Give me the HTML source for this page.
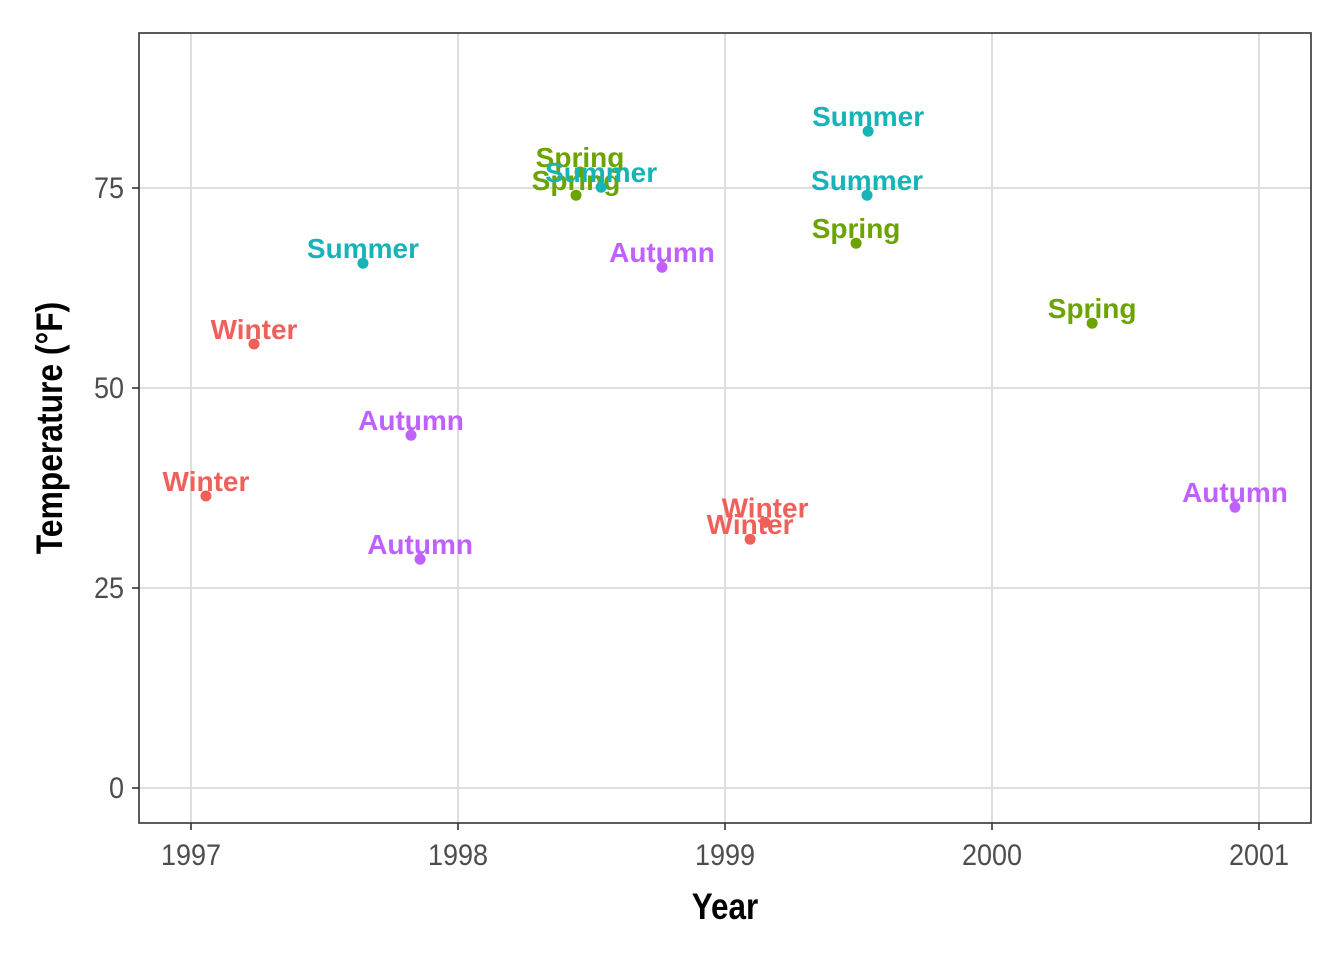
<!DOCTYPE html>
<html><head><meta charset="utf-8"><style>
body{margin:0;background:#fff;}
svg text{font-family:"Liberation Sans",sans-serif;}
</style></head><body>
<svg width="1344" height="960" viewBox="0 0 1344 960">
<rect x="0" y="0" width="1344" height="960" fill="#fff"/>
<g id="grid"></g>
<g id="ticks"></g>
<g id="marks"></g>
<rect x="139" y="33" width="1172" height="790" fill="none" stroke="#333" stroke-width="1.6"/>
<text x="725" y="919" text-anchor="middle" font-size="37" font-weight="bold" transform="translate(725 0) scale(0.85 1) translate(-725 0)">Year</text>
<text transform="translate(62 428) rotate(-90) scale(0.86 1)" text-anchor="middle" font-size="37" font-weight="bold">Temperature (°F)</text>
</svg>
<script>
const years=[1997.056,1997.236,1997.644,1997.824,1997.858,1998.442,1998.457,1998.536,1998.764,1999.094,1999.150,1999.491,1999.532,1999.536,2000.375,2000.910];
const temps=[36.5,55.5,65.6,44.1,28.6,74.1,77,75.1,65.1,31.1,33.2,68.1,74.1,82.1,58.1,35.1];
const seasons=["Winter","Winter","Summer","Autumn","Autumn","Spring","Spring","Summer","Autumn","Winter","Winter","Spring","Summer","Summer","Spring","Autumn"];
const xTicks=[1997,1998,1999,2000,2001];
const yTicks=[0,25,50,75];
const colors={Winter:"#F0605A",Spring:"#6BA300",Summer:"#16B3B7",Autumn:"#BF60FF"};
const NS="http://www.w3.org/2000/svg";
const X=v=>191+(v-1997)*267;
const Y=v=>788-v*8;
function mk(tag,attrs,parent){const e=document.createElementNS(NS,tag);for(const k in attrs)e.setAttribute(k,attrs[k]);parent.appendChild(e);return e;}
const grid=document.getElementById('grid'),ticks=document.getElementById('ticks'),marks=document.getElementById('marks');
xTicks.forEach(t=>{
 const l=mk('line',{x1:X(t),x2:X(t),y1:33,y2:823,stroke:'#dedede','stroke-width':2},grid);
 
 
 const tk=mk('line',{x1:X(t),x2:X(t),y1:823,y2:830,stroke:'#333','stroke-width':1.6},ticks);
 
 
 const tx=mk('text',{x:X(t),y:865,'text-anchor':'middle','font-size':30,fill:'#4d4d4d',transform:`translate(${X(t)} 0) scale(0.9 1) translate(${-X(t)} 0)`},ticks);
 tx.textContent=t;
 
 
});
yTicks.forEach(t=>{
 const l=mk('line',{x1:139,x2:1311,y1:Y(t),y2:Y(t),stroke:'#dedede','stroke-width':2},grid);
 
 
 const tk=mk('line',{x1:132,x2:139,y1:Y(t),y2:Y(t),stroke:'#333','stroke-width':1.6},ticks);
 
 
 const tx=mk('text',{x:124,y:Y(t)+10,'text-anchor':'end','font-size':30,fill:'#4d4d4d',transform:`translate(124 0) scale(0.9 1) translate(-124 0)`},ticks);
 tx.textContent=t;
 
 
});
years.forEach((yr,i)=>{
 const c=colors[seasons[i]];
 const p=mk('circle',{cx:X(yr),cy:Y(temps[i]),r:5.5,fill:c},marks);
 
 
 const t=mk('text',{x:X(yr),y:Y(temps[i])-5,'text-anchor':'middle','font-size':28,'font-weight':'bold',fill:c},marks);
 t.textContent=seasons[i];
 
 
});
</script>
</body></html>
